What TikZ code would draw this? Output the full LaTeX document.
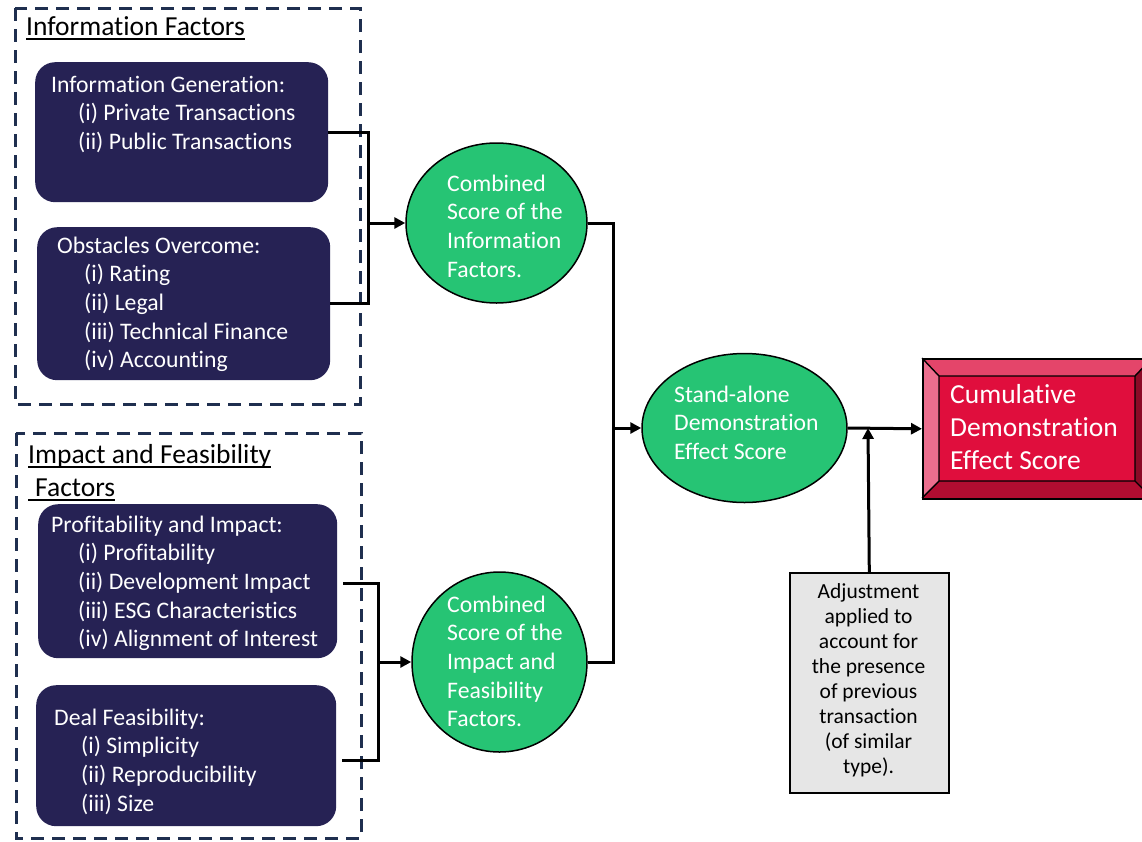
\documentclass[tikz,border=0pt]{standalone}
\usepackage{fontspec}
\setmainfont{Carlito}[RawFeature={-liga;-clig;-dlig;-calt}]
\usetikzlibrary{arrows.meta,shapes.geometric}
\definecolor{navy}{HTML}{262254}
\definecolor{grn}{HTML}{26C474}
\definecolor{dashc}{HTML}{1F2F4F}
\definecolor{gbox}{HTML}{E6E6E6}
\definecolor{rface}{HTML}{E00E3D}
\definecolor{rtop}{HTML}{E4456A}
\definecolor{rleft}{HTML}{EC6E8E}
\definecolor{rbot}{HTML}{B10D31}
\definecolor{rright}{HTML}{8B0A26}
\newcommand\ulin[1]{\setbox0\hbox{#1}\rlap{\rule[-4.5pt]{\wd0}{1.6pt}}\box0}
\tikzset{
  dbox/.style={draw=dashc, line width=3pt, dash pattern=on 13pt off 8pt},
  nbox/.style={fill=navy, draw=none, rounded corners=20pt, inner sep=0, anchor=north west},
  oval/.style={ellipse, fill=grn, draw=black, line width=1.5pt, inner sep=0},
  wtxt/.style={text=white, inner sep=0, anchor=base west, font=\fontsize{23.7}{28.7}\selectfont},
  ttl/.style={text=black, inner sep=0, anchor=base west, font=\fontsize{27.5}{33}\selectfont},
  conn/.style={draw=black, line width=3pt},
  arr/.style={conn, -{Triangle[length=11pt,width=11pt]}},
}
\begin{document}
\begin{tikzpicture}[x=1pt,y=-1pt]
\path[fill=white, use as bounding box] (0,0) rectangle (1142,841);

% dashed group frames
\draw[dbox] (15,8) rectangle (360,404);
\draw[dbox] (16,433) rectangle (361,838);

% titles
\node[ttl] (t1) at (26,35) {\ulin{Information Factors}};
\node[ttl] (t2) at (28,463) {\begin{tabular}[t]{@{}l@{}}\ulin{Impact and Feasibility}\\\ulin{\hspace{7pt}Factors}\end{tabular}};

% navy boxes
\node[nbox, minimum width=293pt, minimum height=140pt] (ig) at (35,62) {};
\node[nbox, minimum width=293pt, minimum height=153pt] (oo) at (37,227) {};
\node[nbox, minimum width=299pt, minimum height=154pt] (pi) at (38,504) {};
\node[nbox, minimum width=300pt, minimum height=141pt] (df) at (36,685) {};

\node[wtxt] (igt) at (51,92) {\begin{tabular}[t]{@{}l@{}}Information Generation:\\\hspace{27pt}(i) Private Transactions\\\hspace{27pt}(ii) Public Transactions\end{tabular}};
\node[wtxt] (oot) at (57,253) {\begin{tabular}[t]{@{}l@{}}Obstacles Overcome:\\\hspace{27pt}(i) Rating\\\hspace{27pt}(ii) Legal\\\hspace{27pt}(iii) Technical Finance\\\hspace{27pt}(iv) Accounting\end{tabular}};
\node[wtxt] (pit) at (51,532) {\begin{tabular}[t]{@{}l@{}}Profitability and Impact:\\\hspace{27pt}(i) Profitability\\\hspace{27pt}(ii) Development Impact\\\hspace{27pt}(iii) ESG Characteristics\\\hspace{27pt}(iv) Alignment of Interest\end{tabular}};
\node[wtxt] (dft) at (54,725) {\begin{tabular}[t]{@{}l@{}}Deal Feasibility:\\\hspace{27pt}(i) Simplicity\\\hspace{27pt}(ii) Reproducibility\\\hspace{27pt}(iii) Size\end{tabular}};

% green ellipses
\node[oval, minimum width=181pt, minimum height=160pt] (e1) at (496.5,223) {};
\node[oval, minimum width=175pt, minimum height=180pt] (e2) at (499.5,662) {};
\node[oval, minimum width=205pt, minimum height=149pt] (e3) at (744.5,428) {};
\node[wtxt] (e1t) at (447,191) {\begin{tabular}[t]{@{}l@{}}Combined\\Score of the\\Information\\Factors.\end{tabular}};
\node[wtxt] (e2t) at (447,612) {\begin{tabular}[t]{@{}l@{}}Combined\\Score of the\\Impact and\\Feasibility\\Factors.\end{tabular}};
\node[wtxt] (e3t) at (674,402) {\begin{tabular}[t]{@{}l@{}}Stand-alone\\Demonstration\\Effect Score\end{tabular}};

% red bevelled box
\fill[rtop] (922,358) -- (1152,358) -- (1135,376) -- (939,376) -- cycle;
\fill[rleft] (922,358) -- (939,376) -- (939,481) -- (922,498) -- cycle;
\fill[rbot] (922,498) -- (939,481) -- (1135,481) -- (1152,498) -- cycle;
\fill[rright] (1152,358) -- (1135,376) -- (1135,481) -- (1152,498) -- cycle;
\fill[rface] (939,376) rectangle (1135,481);
\draw[black, line width=1.4pt] (939,376) rectangle (1135,481)
  (922,358) -- (939,376) (1152,358) -- (1135,376) (922,498) -- (939,481) (1152,498) -- (1135,481);
\node[draw=black, line width=1.6pt, minimum width=230pt, minimum height=140pt, inner sep=0, anchor=north west] (cum) at (922,358) {};
\node[text=white, inner sep=0, anchor=base west, font=\fontsize{27.5}{33.3}\selectfont] (cumt) at (950,403) {\begin{tabular}[t]{@{}l@{}}Cumulative\\Demonstration\\Effect Score\end{tabular}};

% grey adjustment box
\node[draw=black, fill=gbox, line width=1.6pt, minimum width=159pt, minimum height=220pt, inner sep=0, anchor=north west] (adj) at (789,572) {};
\node[text=black, inner sep=0, anchor=base, font=\fontsize{21.5}{25}\selectfont] (adjt) at (868.5,598) {\begin{tabular}[t]{@{}c@{}}Adjustment\\applied to\\account for\\the presence\\of previous\\transaction\\(of similar\\type).\end{tabular}};

% connectors
\coordinate (j1) at (368,223);
\coordinate (j2) at (378,662);
\coordinate (j3) at (613,428);
\coordinate (j4) at (868,428);
\draw[conn] (ig.east) -| (j1) |- (oo.east);
\draw[arr] (j1) -- (e1.west);
\draw[conn] ([xshift=6pt,yshift=-2pt]pi.east) -| (j2) |- ([xshift=6pt,yshift=-4.5pt]df.east);
\draw[arr] (j2) -- (e2.west);
\draw[conn] (e1.east) -| (j3) |- (e2.east);
\draw[arr] (j3) -- (e3.west);
\draw[arr] (e3.east) -- (cum.west);
\draw[arr] (adj.north) -- (j4);
\end{tikzpicture}
\end{document}
